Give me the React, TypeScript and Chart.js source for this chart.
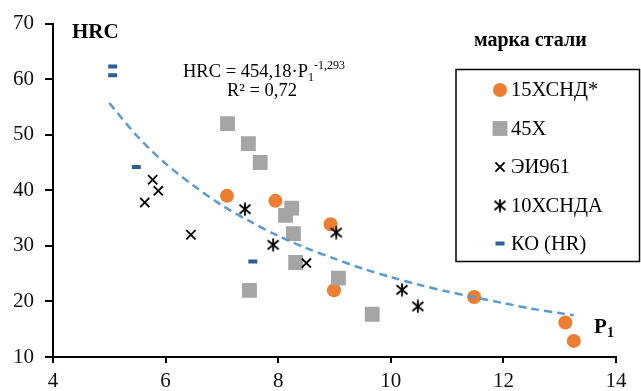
import React, { useEffect, useRef } from 'react';
import { Chart, registerables } from 'chart.js';

Chart.register(...registerables);

const FONT = "'Liberation Serif', 'Times New Roman', serif";

// ---- data ----
const seriesNames = ['15ХСНД*', '45Х', 'ЭИ961', '10ХСНДА', 'КО (HR)'];

const s15X = [7.09, 7.95, 8.93, 8.99, 11.48, 13.1, 13.25];
const s15Y = [39.0, 38.1, 33.9, 22.0, 20.8, 16.2, 12.9];

const s45X = [7.1, 7.47, 7.68, 8.24, 8.13, 8.27, 8.31, 7.49, 9.07, 9.67];
const s45Y = [52.0, 48.4, 45.0, 36.8, 35.5, 32.2, 27.0, 22.0, 24.2, 17.7];

const sEIX = [5.63, 5.77, 5.87, 6.45, 8.5];
const sEIY = [37.8, 41.9, 39.9, 32.0, 26.9];

const s10X = [7.41, 7.91, 9.03, 10.2, 10.48];
const s10Y = [36.6, 30.2, 32.4, 22.1, 19.1];

const sKOX = [5.06, 5.06, 5.48, 7.55];
const sKOY = [62.3, 60.7, 44.2, 27.2];

const trendX = [5, 5.5, 6, 6.5, 7, 7.5, 8, 8.5, 9, 9.5, 10, 10.5, 11, 11.5, 12, 12.5, 13, 13.25];
const trendY = [55.7, 49.7, 44.8, 40.8, 37.3, 34.4, 31.8, 29.6, 27.7, 25.9, 24.4, 23.0, 21.8, 20.7, 19.7, 18.7, 17.9, 17.5];

const xMin = 4, xMax = 14, xStep = 2;
const yMin = 10, yMax = 70, yStep = 10;

const yTitle = 'HRC';
const xTitle = 'P';
const xTitleSub = '1';
const legendTitle = 'марка стали';
const eqMain = 'HRC = 454,18·P';
const eqSub = '1';
const eqSup = '-1,293';
const eqR2 = 'R² = 0,72';

const pts = (xs: number[], ys: number[]) => xs.map((x, i) => ({ x, y: ys[i] }));

function makeAsterisk(): HTMLCanvasElement {
  const c = document.createElement('canvas');
  c.width = 14;
  c.height = 14;
  const g = c.getContext('2d')!;
  g.strokeStyle = '#000';
  g.lineWidth = 1.8;
  g.lineCap = 'butt';
  g.beginPath();
  g.moveTo(7, 0.5);
  g.lineTo(7, 13.5);
  g.moveTo(1.5, 2.5);
  g.lineTo(12.5, 11.5);
  g.moveTo(12.5, 2.5);
  g.lineTo(1.5, 11.5);
  g.stroke();
  return c;
}

function drawMarker(ctx: CanvasRenderingContext2D, ds: any, x: number, y: number) {
  const st = ds.pointStyle;
  const r = ds.pointRadius;
  ctx.save();
  ctx.fillStyle = ds.pointBackgroundColor;
  ctx.strokeStyle = ds.pointBorderColor;
  ctx.lineWidth = ds.pointBorderWidth;
  if (st === 'circle') {
    ctx.beginPath();
    ctx.arc(x, y, r, 0, Math.PI * 2);
    ctx.fill();
  } else if (st === 'rect') {
    const h = r * Math.SQRT1_2;
    ctx.fillRect(x - h, y - h, 2 * h, 2 * h);
  } else if (st === 'crossRot') {
    const o = r * Math.SQRT1_2;
    ctx.beginPath();
    ctx.moveTo(x - o, y - o);
    ctx.lineTo(x + o, y + o);
    ctx.moveTo(x + o, y - o);
    ctx.lineTo(x - o, y + o);
    ctx.stroke();
  } else if (st === 'line') {
    ctx.beginPath();
    ctx.moveTo(x - r, y);
    ctx.lineTo(x + r, y);
    ctx.stroke();
  } else if (st instanceof HTMLCanvasElement) {
    ctx.drawImage(st, x - st.width / 2, y - st.height / 2);
  }
  ctx.restore();
}

const annotationsPlugin = {
  id: 'annotations',
  afterDraw(chart: any) {
    const ctx: CanvasRenderingContext2D = chart.ctx;
    ctx.save();
    ctx.fillStyle = '#000';
    ctx.textBaseline = 'alphabetic';
    ctx.textAlign = 'left';

    // axis titles
    ctx.font = `bold 21px ${FONT}`;
    ctx.fillText(yTitle, 72, 37.5);
    ctx.fillText(xTitle, 594, 333);
    ctx.font = `bold 14px ${FONT}`;
    ctx.fillText(xTitleSub, 607, 337);

    // equation
    ctx.font = `18.5px ${FONT}`;
    let ex = 183;
    ctx.fillText(eqMain, ex, 76.5);
    ex += ctx.measureText(eqMain).width;
    ctx.font = `12px ${FONT}`;
    ctx.fillText(eqSub, ex, 80.5);
    ex += ctx.measureText(eqSub).width;
    ctx.fillText(eqSup, ex, 69);
    ctx.font = `18.5px ${FONT}`;
    ctx.textAlign = 'center';
    ctx.fillText(eqR2, 262, 96);
    ctx.textAlign = 'left';

    // legend title
    ctx.font = `bold 20px ${FONT}`;
    ctx.fillText(legendTitle, 474, 46);

    // legend box
    ctx.strokeStyle = '#000';
    ctx.lineWidth = 1.5;
    ctx.strokeRect(456, 69.5, 183.5, 192);

    const rows = [90, 128.5, 167, 205.5, 243.5];
    ctx.font = `20.5px ${FONT}`;
    ctx.textBaseline = 'middle';
    seriesNames.forEach((name, i) => {
      const ds = chart.data.datasets.find((d: any) => d.label === name);
      if (ds) drawMarker(ctx, ds, 500, rows[i]);
      ctx.fillStyle = '#000';
      ctx.fillText(name, 511, rows[i] + 1);
    });
    ctx.restore();
  },
};

export default function App() {
  const ref = useRef<HTMLCanvasElement>(null);
  useEffect(() => {
    if (!ref.current) return;
    const asterisk = makeAsterisk();
    const tickFont = { family: FONT, size: 21 };
    const chart = new Chart(ref.current, {
      type: 'scatter',
      data: {
        datasets: [
          {
            label: 'trend',
            type: 'line',
            data: pts(trendX, trendY),
            showLine: true,
            borderColor: '#5B9BD5',
            borderWidth: 2.5,
            borderDash: [8, 5],
            pointRadius: 0,
            tension: 0.3,
            fill: false,
          } as any,
          {
            label: seriesNames[4],
            data: pts(sKOX, sKOY),
            pointStyle: 'line',
            pointRadius: 4.5,
            pointBorderWidth: 4,
            pointBorderColor: '#2E5E95',
            pointBackgroundColor: '#2E5E95',
          },
          {
            label: seriesNames[3],
            data: pts(s10X, s10Y),
            pointStyle: asterisk,
            pointRadius: 7,
            pointBorderWidth: 1.8,
            pointBorderColor: '#000',
            pointBackgroundColor: '#000',
          },
          {
            label: seriesNames[2],
            data: pts(sEIX, sEIY),
            pointStyle: 'crossRot',
            pointRadius: 6.5,
            pointBorderWidth: 1.8,
            pointBorderColor: '#000',
            pointBackgroundColor: '#000',
          },
          {
            label: seriesNames[1],
            data: pts(s45X, s45Y),
            pointStyle: 'rect',
            pointRadius: 10.5,
            pointBorderWidth: 0,
            pointBorderColor: '#A5A5A5',
            pointBackgroundColor: '#A5A5A5',
          },
          {
            label: seriesNames[0],
            data: pts(s15X, s15Y),
            pointStyle: 'circle',
            pointRadius: 7,
            pointBorderWidth: 0,
            pointBorderColor: '#ED7D31',
            pointBackgroundColor: '#ED7D31',
          },
        ],
      },
      options: {
        animation: false,
        responsive: false,
        layout: { padding: { top: 22, right: 25, left: 0, bottom: 0 } },
        plugins: { legend: { display: false }, tooltip: { enabled: false } },
        scales: {
          x: {
            type: 'linear',
            min: xMin,
            max: xMax,
            ticks: { stepSize: xStep, font: tickFont, color: '#111', padding: 6, maxRotation: 0 },
            grid: { drawOnChartArea: false, drawTicks: true, tickLength: 6, color: '#000', lineWidth: 2 },
            border: { color: '#000', width: 2 },
            afterFit: (s: any) => {
              s.height = 34;
            },
          },
          y: {
            type: 'linear',
            min: yMin,
            max: yMax,
            ticks: { stepSize: yStep, font: tickFont, color: '#111', padding: 11 },
            grid: { drawOnChartArea: false, drawTicks: true, tickLength: 8, color: '#000', lineWidth: 2 },
            border: { color: '#000', width: 2 },
            afterFit: (s: any) => {
              s.width = 53;
            },
          },
        },
      },
      plugins: [annotationsPlugin],
    });
    return () => chart.destroy();
  }, []);
  return (
    <div style={{ position: 'absolute', left: 0, top: 0, width: 641, height: 391, background: '#fff' }}>
      <canvas ref={ref} width={641} height={391} />
    </div>
  );
}
